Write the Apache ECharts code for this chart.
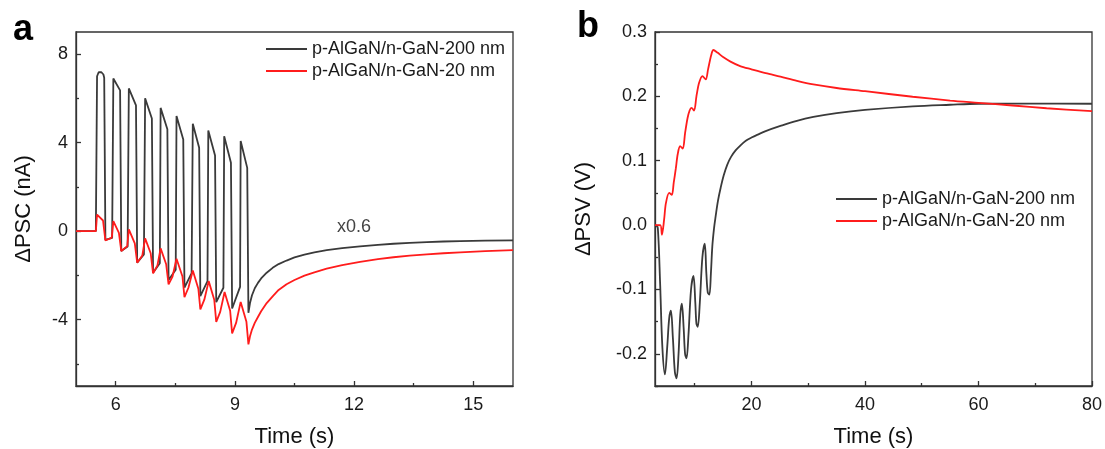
<!DOCTYPE html>
<html><head><meta charset="utf-8">
<script src="https://cdn.jsdelivr.net/npm/echarts@6/dist/echarts.min.js"></script>
<style>html,body{margin:0;padding:0;background:#fff}#c{width:1105px;height:449px}</style>
</head><body><div id="c"></div><script>
// ---------- data ----------
const seriesNames = ['p-AlGaN/n-GaN-200 nm', 'p-AlGaN/n-GaN-20 nm'];
const panelLetters = ['a', 'b'];
const axisTitleX = 'Time (s)';
const axisTitleYa = 'ΔPSC (nA)';
const axisTitleYb = 'ΔPSV (V)';
const scaleNote = 'x0.6';

const aTicksX = [6, 9, 12, 15];
const aMinorX = [7.5, 10.5, 13.5];
const aTicksY = [-4, 0, 4, 8];
const aMinorY = [-6, -2, 2, 6];
const bTicksX = [20, 40, 60, 80];
const bMinorX = [10, 30, 50, 70];
const bTicksY = [-0.2, -0.1, 0, 0.1, 0.2, 0.3];
const bMinorY = [-0.25, -0.15, -0.05, 0.05, 0.15, 0.25];

// panel a, 200 nm (black)
const a200 = [
  [5.0, 0], [5.50, 0], [5.53, 7.0], [5.57, 7.18], [5.64, 7.18], [5.69, 7.08], [5.71, 6.93], [5.74, -0.40],
  [5.91, -0.31], [5.94, 6.90], [6.11, 6.36], [6.14, -0.90],
  [6.30, -0.70], [6.33, 6.45], [6.51, 5.68], [6.54, -1.43],
  [6.71, -1.05], [6.74, 6.00], [6.91, 5.09], [6.94, -1.88],
  [7.11, -1.45], [7.13, 5.57], [7.30, 4.60], [7.33, -2.21],
  [7.51, -1.75], [7.53, 5.20], [7.70, 4.14], [7.73, -2.55],
  [7.91, -1.90], [7.94, 4.85], [8.10, 3.77], [8.13, -2.94],
  [8.31, -2.26], [8.33, 4.55], [8.50, 3.42], [8.53, -3.21],
  [8.71, -2.56], [8.73, 4.29], [8.90, 3.09], [8.93, -3.50],
  [9.13, -2.52], [9.145, 4.07], [9.31, 2.86], [9.34, -3.69],
  [9.38, -3.25], [9.43, -2.90], [9.50, -2.58], [9.58, -2.34], [9.66, -2.14], [9.80, -1.88],
  [9.95, -1.66], [10.10, -1.49], [10.30, -1.33], [10.50, -1.19], [10.75, -1.06], [11.0, -0.96],
  [11.31, -0.86], [11.7, -0.77], [12.15, -0.69], [12.6, -0.62], [12.99, -0.57], [13.4, -0.535],
  [13.83, -0.50], [14.25, -0.47], [14.67, -0.45], [15.3, -0.43], [16.0, -0.415]
];
// panel a, 20 nm (red)
const a20 = [
  [5.0, 0], [5.50, 0], [5.53, 0.75], [5.57, 0.78], [5.68, 0.48], [5.74, -0.42],
  [5.90, -0.30], [5.94, 0.45], [6.08, -0.08], [6.14, -0.90],
  [6.29, -0.68], [6.33, 0.08], [6.48, -0.55], [6.54, -1.43],
  [6.67, -1.10], [6.74, -0.33], [6.88, -1.00], [6.94, -1.91],
  [7.05, -1.55], [7.13, -0.78], [7.27, -1.50], [7.33, -2.41],
  [7.43, -2.05], [7.53, -1.25], [7.68, -2.05], [7.73, -2.98],
  [7.83, -2.56], [7.94, -1.78], [8.08, -2.60], [8.13, -3.54],
  [8.23, -3.10], [8.34, -2.26], [8.48, -3.10], [8.53, -4.10],
  [8.63, -3.65], [8.74, -2.75], [8.88, -3.60], [8.93, -4.62],
  [9.03, -4.15], [9.145, -3.20], [9.29, -4.10], [9.34, -5.12],
  [9.38, -4.75], [9.43, -4.45], [9.50, -4.15], [9.58, -3.88], [9.66, -3.62], [9.80, -3.25],
  [9.95, -2.95], [10.10, -2.66], [10.30, -2.40], [10.50, -2.21], [10.75, -2.01], [11.0, -1.86],
  [11.31, -1.70], [11.7, -1.54], [12.15, -1.39], [12.6, -1.27], [12.99, -1.18], [13.4, -1.11],
  [13.83, -1.05], [14.25, -1.00], [14.67, -0.96], [15.3, -0.90], [16.0, -0.86]
];
// panel b, 200 nm (black)
const b200 = [
  [3.2, 0], [3.5, -0.005], [3.9, -0.09], [4.3, -0.19], [4.75, -0.232], [5.15, -0.19], [5.5, -0.145],
  [5.8, -0.133], [6.15, -0.175], [6.5, -0.228], [6.8, -0.238], [7.15, -0.2], [7.45, -0.14],
  [7.73, -0.122], [8.05, -0.16], [8.3, -0.2], [8.55, -0.207], [8.9, -0.17], [9.35, -0.1],
  [9.78, -0.079], [10.1, -0.12], [10.3, -0.153], [10.53, -0.158], [10.9, -0.12], [11.35, -0.05],
  [11.76, -0.029], [12.05, -0.075], [12.3, -0.105], [12.58, -0.108], [12.85, -0.075], [13.1, -0.033],
  [13.4, -0.005], [13.69, 0.014], [14.1, 0.038], [14.57, 0.058], [15.1, 0.077], [15.74, 0.094],
  [16.4, 0.106], [17.2, 0.116], [18.07, 0.124], [19, 0.131], [20, 0.136], [21.2, 0.141],
  [22.5, 0.146], [25.1, 0.154], [28, 0.162], [30.9, 0.168], [35, 0.174], [40, 0.179],
  [48.4, 0.1845], [55, 0.187], [60, 0.1885], [70, 0.1888], [80, 0.1885]
];
// panel b, 20 nm (red)
const b20 = [
  [3.0, 0], [3.93, 0], [4.22, -0.015], [4.6, 0.008], [4.92, 0.034], [5.5, 0.05], [5.97, 0.047],
  [6.3, 0.066], [6.67, 0.088], [7.0, 0.11], [7.42, 0.1225], [7.9, 0.119], [8.3, 0.143],
  [8.73, 0.166], [9.1, 0.178], [9.43, 0.182], [9.89, 0.178], [10.3, 0.2], [10.77, 0.221],
  [11.36, 0.2315], [11.94, 0.2263], [12.35, 0.242], [12.9, 0.264], [13.29, 0.272],
  [14.0, 0.268], [15.0, 0.261], [16.3, 0.254], [18, 0.247], [20, 0.242], [22.5, 0.236],
  [25.1, 0.2305], [28, 0.224], [30.9, 0.2185], [35, 0.213], [40, 0.208], [48.4, 0.1994],
  [55, 0.1935], [60, 0.19], [66, 0.1858], [72, 0.1815], [80, 0.177]
];

// ---------- chart ----------
const FONT = '"Liberation Sans", Arial, sans-serif';
const AX = '#333333';
const BLACK = '#3a3a3a';
const RED = '#ff1c1c';
const grids = [
  { left: 76, right: 592, top: 32, bottom: 63 },
  { left: 655, right: 13, top: 32, bottom: 63 }
];

function mainAxis(gridIndex, min, max, ticks, fmt, dim, name, nameGap) {
  return {
    type: 'value', gridIndex, min, max,
    position: dim === 'x' ? 'bottom' : 'left',
    name, nameLocation: 'middle', nameGap,
    nameTextStyle: { fontFamily: FONT, fontSize: 22, color: '#111' },
    axisLine: { show: true, onZero: false, lineStyle: { color: AX, width: 1.3 } },
    axisTick: { show: true, inside: true, length: 5, customValues: ticks, lineStyle: { color: AX, width: 1.3 } },
    axisLabel: { show: true, customValues: ticks, formatter: fmt, margin: dim === 'x' ? 10 : 8, fontFamily: FONT, fontSize: 18, color: '#1a1a1a' },
    splitLine: { show: false }
  };
}
function minorAxis(gridIndex, min, max, ticks, dim) {
  return {
    type: 'value', gridIndex, min, max,
    position: dim === 'x' ? 'bottom' : 'left',
    axisLine: { show: false, onZero: false },
    axisTick: { show: true, inside: true, length: 3, customValues: ticks, lineStyle: { color: AX, width: 1.3 } },
    axisLabel: { show: false },
    splitLine: { show: false }
  };
}
const fmtInt = v => String(Math.round(v));
const fmt1 = v => v.toFixed(1);

function lineSeries(name, data, color, xi, yi, smooth) {
  return {
    type: 'line', name, data, xAxisIndex: xi, yAxisIndex: yi,
    showSymbol: false, symbol: 'none', smooth: smooth, clip: true,
    lineStyle: { color, width: 1.8 }, itemStyle: { color }
  };
}

const legendCommon = {
  orient: 'vertical', icon: 'rect', itemWidth: 41, itemHeight: 2, itemGap: 4,
  textStyle: { fontFamily: FONT, fontSize: 18, color: '#1a1a1a', lineHeight: 18 },
  data: seriesNames, selectedMode: false
};

const option = {
  animation: false,
  backgroundColor: '#fff',
  grid: grids.map(g => Object.assign({ show: true, borderColor: AX, borderWidth: 1.3, backgroundColor: 'transparent', containLabel: false, outerBoundsMode: 'none' }, g)),
  xAxis: [
    mainAxis(0, 5, 16, aTicksX, fmtInt, 'x', axisTitleX, 40),
    minorAxis(0, 5, 16, aMinorX, 'x'),
    mainAxis(1, 3, 80, bTicksX, fmtInt, 'x', axisTitleX, 40),
    minorAxis(1, 3, 80, bMinorX, 'x')
  ],
  yAxis: [
    mainAxis(0, -7, 9, aTicksY, fmtInt, 'y', axisTitleYa, 41),
    minorAxis(0, -7, 9, aMinorY, 'y'),
    mainAxis(1, -0.25, 0.3, bTicksY, fmt1, 'y', axisTitleYb, 60),
    minorAxis(1, -0.25, 0.3, bMinorY, 'y')
  ],
  legend: [
    Object.assign({ left: 261, top: 35 }, legendCommon),
    Object.assign({ left: 831, top: 185 }, legendCommon)
  ],
  series: [
    lineSeries(seriesNames[0], a200, BLACK, 0, 0, false),
    lineSeries(seriesNames[1], a20, RED, 0, 0, false),
    lineSeries(seriesNames[0], b200, BLACK, 2, 2, 0.35),
    lineSeries(seriesNames[1], b20, RED, 2, 2, 0.3)
  ],
  graphic: [
    { type: 'text', left: 13, top: 12, style: { text: panelLetters[0], font: 'bold 36px ' + FONT, fill: '#000' } },
    { type: 'text', left: 577, top: 9, style: { text: panelLetters[1], font: 'bold 36px ' + FONT, fill: '#000' } },
    { type: 'text', left: 337, top: 218, style: { text: scaleNote, font: '18px ' + FONT, fill: '#444' } }
  ]
};
const chart = echarts.init(document.getElementById('c'), null, { renderer: 'canvas' });
chart.setOption(option);
</script></body></html>
